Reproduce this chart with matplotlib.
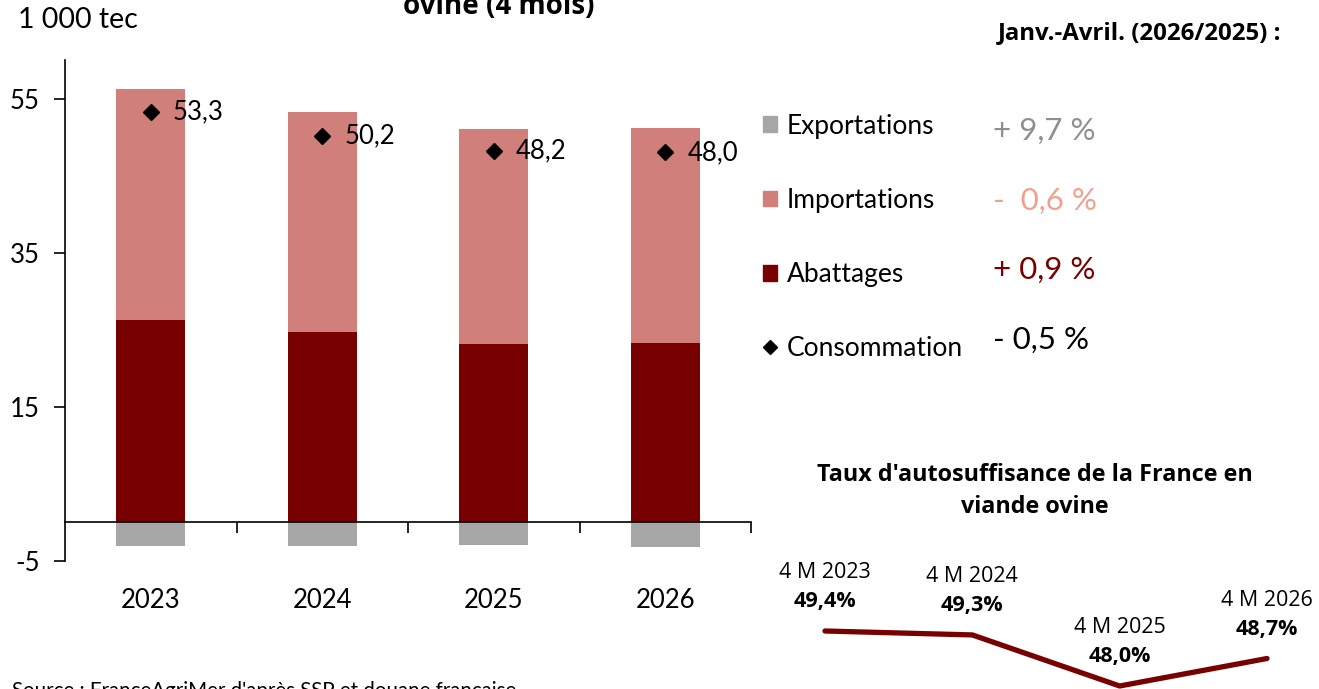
import matplotlib

matplotlib.use("Agg")
import matplotlib.pyplot as plt
from matplotlib.lines import Line2D
from matplotlib.patches import Patch
import numpy as np

# data (1 000 tec, janvier-avril)
YEARS = ["2023", "2024", "2025", "2026"]
ABATTAGES = [26.3, 24.7, 23.1, 23.3]
IMPORTATIONS = [30.0, 28.6, 28.0, 27.9]
EXPORTATIONS = [3.0, 3.1, 2.9, 3.2]
CONSOMMATION = [53.3, 50.2, 48.2, 48.0]

LEGEND_LABELS = ["Exportations", "Importations", "Abattages", "Consommation"]
EVOLUTIONS = ["+ 9,7 %", "-  0,6 %", "+ 0,9 %", "- 0,5 %"]

# taux d'autosuffisance
AUTO_LABELS = ["4 M 2023", "4 M 2024", "4 M 2025", "4 M 2026"]
AUTO_VALUES = [49.4, 49.3, 48.0, 48.7]

COL_ABAT = "#780000"
COL_IMPO = "#D17F7B"
COL_EXPO = "#A6A6A6"
EVOL_COLORS = ["#8F8F8F", "#F2A08E", "#780000", "#000000"]

MAIN_FONT = ["Lato", "DejaVu Sans"]
ALT_FONT = ["Open Sans", "DejaVu Sans"]

plt.rcParams.update({"font.family": MAIN_FONT, "axes.unicode_minus": False})

W, H = 1319, 689
fig = plt.figure(figsize=(W / 100, H / 100), dpi=100)


def fx(px):
    return px / W


def fy(py):
    return 1 - py / H


ax = fig.add_axes([fx(65), fy(561), fx(751) - fx(65), fy(60) - fy(561)])
x = np.arange(len(YEARS))
width = 0.4
ax.bar(x, ABATTAGES, width, color=COL_ABAT, zorder=2)
ax.bar(x, IMPORTATIONS, width, bottom=ABATTAGES, color=COL_IMPO, zorder=2)
ax.bar(x, [-v for v in EXPORTATIONS], width, color=COL_EXPO, zorder=2)
ax.plot(x, CONSOMMATION, linestyle="none", marker="D", markersize=8.5, color="black", zorder=3)
for xi, val in zip(x, CONSOMMATION):
    ax.annotate(f"{val:.1f}".replace(".", ","), (xi, val), xytext=(16, 0),
                textcoords="offset points", va="center", ha="left", fontsize=18.5)

ax.set_xlim(-0.5, 3.5)
ax.set_ylim(-5, 60)
ax.set_yticks([-5, 15, 35, 55])
ax.tick_params(axis="y", labelsize=18.5, length=8, width=1.2, pad=10)
ax.spines["top"].set_visible(False)
ax.spines["right"].set_visible(False)
ax.spines["bottom"].set_position(("data", 0))
ax.spines["left"].set_linewidth(1.2)
ax.spines["bottom"].set_linewidth(1.2)
ax.set_xticks(x)
ax.set_xticklabels(YEARS)
ax.set_xticks(x + 0.5, minor=True)
ax.tick_params(axis="x", which="major", length=0, pad=47, labelsize=18.5)
ax.tick_params(axis="x", which="minor", length=8, width=1.2, direction="out")

fig.text(fx(18), fy(20), "1 000 tec", fontsize=20.5, va="center", ha="left")
fig.text(fx(499), fy(14), "ovine (4 mois)", fontsize=20, weight="bold",
         va="baseline", ha="center", family=ALT_FONT)
fig.text(fx(12), fy(681), "Source : FranceAgriMer d'après SSP et douane française",
         fontsize=14.8, va="top", ha="left")

# legende + evolutions
handles = [
    Patch(color=COL_EXPO),
    Patch(color=COL_IMPO),
    Patch(color=COL_ABAT),
    Line2D([], [], linestyle="none", marker="D", markersize=7, color="black"),
]
fig.legend(handles, LEGEND_LABELS, loc="upper left", bbox_to_anchor=(fx(739), fy(90)),
           frameon=False, fontsize=19, handlelength=0.55, handleheight=0.55,
           handletextpad=0.35, labelspacing=1.86)

fig.text(fx(1281), fy(33), "Janv.-Avril. (2026/2025) :", fontsize=17.3, weight="bold",
         ha="right", va="center", family=ALT_FONT)
evol_y = [131, 201, 270, 340]
for txt, col, py in zip(EVOLUTIONS, EVOL_COLORS, evol_y):
    fig.text(fx(993), fy(py), txt, fontsize=22.5, color=col, ha="left", va="center")

# taux d'autosuffisance
fig.text(fx(1035), fy(491), "Taux d'autosuffisance de la France en\nviande ovine",
         fontsize=16.8, weight="bold", ha="center", va="center", linespacing=1.45,
         family=ALT_FONT)
ax2 = fig.add_axes([fx(825), fy(686), fx(1267) - fx(825), fy(631) - fy(686)])
xi2 = np.arange(len(AUTO_VALUES))
ax2.plot(xi2, AUTO_VALUES, color=COL_ABAT, linewidth=3.8, solid_capstyle="round", clip_on=False)
ax2.set_xlim(0, 3)
ax2.set_ylim(48.0, 49.4)
ax2.axis("off")
for xv, val, lab in zip(xi2, AUTO_VALUES, AUTO_LABELS):
    ax2.annotate(f"{val:.1f}%".replace(".", ","), (xv, val), xytext=(0, 21),
                 textcoords="offset points", ha="center", va="center", fontsize=15.5,
                 weight="bold", family=ALT_FONT, annotation_clip=False)
    ax2.annotate(lab, (xv, val), xytext=(0, 42), textcoords="offset points",
                 ha="center", va="center", fontsize=15.5, family=ALT_FONT,
                 annotation_clip=False)

fig.savefig("out.png", dpi=100)
